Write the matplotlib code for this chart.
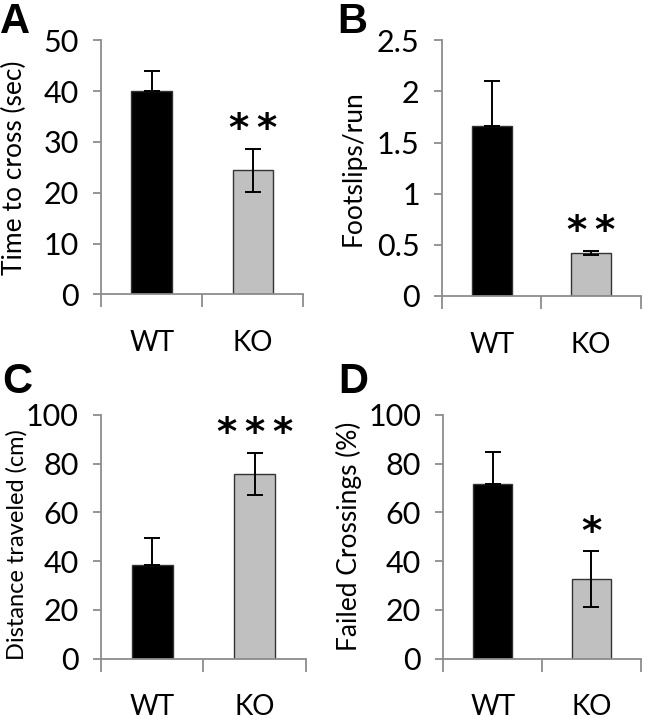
import numpy as np
from matplotlib import pyplot as plt

plt.rcParams['font.family'] = ['Lato', 'DejaVu Sans']

groups = ["WT", "KO"]
bar_colors = ["black", "#c0c0c0"]

# panel values
time_cross = [40.0, 24.4]
time_cross_err = [4.0, 4.2]
footslips = [1.66, 0.42]
footslips_err = [0.44, 0.02]
distance = [38.3, 75.7]
distance_err = [11.2, 8.7]
failed = [71.7, 32.7]
failed_err = [13.0, 11.3]

panels = [
    ("A", time_cross, time_cross_err, "Time to cross (sec)", 50, 10, "**"),
    ("B", footslips, footslips_err, "Footslips/run", 2.5, 0.5, "**"),
    ("C", distance, distance_err, "Distance traveled (cm)", 100, 20, "***"),
    ("D", failed, failed_err, "Failed Crossings (%)", 100, 20, "*"),
]

# axes boxes in figure fractions [left, bottom, width, height]
boxes = [
    [0.156, 0.591, 0.312, 0.353],
    [0.682, 0.589, 0.307, 0.355],
    [0.156, 0.085, 0.316, 0.339],
    [0.684, 0.085, 0.305, 0.339],
]
letter_pos = [(0.0, 0.997), (0.520, 0.997), (0.004, 0.497), (0.522, 0.497)]
# ylabel placement (x, y in axes fraction) and size
label_spots = [(-0.366, 0.5, 19), (-0.382, 0.5, 19), (-0.361, 0.47, 17), (-0.41, 0.5, 19)]

fig = plt.figure(figsize=(6.48, 7.2), dpi=100)
axis_col = "#8c8c8c"

for (letter, vals, errs, ylabel, ymax, step, stars), box, lp, ls in zip(panels, boxes, letter_pos, label_spots):
    ax = fig.add_axes(box)
    x = np.array([0.5, 1.5])
    # lower error only drawn for the grey bar (black bar hides it)
    lower = [0, errs[1]]
    ax.bar(x, vals, width=0.4, color=bar_colors, edgecolor="#333333", linewidth=1.0, zorder=2)
    ax.errorbar(x, vals, yerr=[lower, errs], fmt="none", ecolor="black",
                elinewidth=1.4, capsize=6, capthick=1.4, zorder=3)
    ax.set_xlim(0, 2)
    ax.set_ylim(0, ymax)
    ticks = np.arange(0, ymax + step / 2, step)
    ax.set_yticks(ticks)
    ax.set_yticklabels([("%g" % t) for t in ticks], fontsize=22)
    ax.set_xticks([0, 1, 2])
    ax.set_xticklabels([])
    for xi, g in zip(x, groups):
        ax.annotate(g, (xi, 0), xycoords=("data", "axes fraction"), xytext=(0, -35),
                    textcoords="offset points", ha="center", va="center", fontsize=20)
    ax.set_ylabel(ylabel, fontsize=ls[2])
    ax.yaxis.set_label_coords(ls[0], ls[1])
    for s in ["top", "right"]:
        ax.spines[s].set_visible(False)
    for s in ["left", "bottom"]:
        ax.spines[s].set_color(axis_col)
        ax.spines[s].set_linewidth(1.3)
    ax.tick_params(axis="y", direction="out", length=6, width=1.3, color=axis_col, pad=10)
    ax.tick_params(axis="x", direction="out", length=9, width=1.3, color=axis_col)
    ax.text(1.5, vals[1] + errs[1] + ymax * 0.03, "\u2009".join(stars), ha="center",
            va="baseline", fontsize=28, fontweight="bold", fontfamily="DejaVu Sans")
    fig.text(lp[0], lp[1], letter, ha="left", va="top", fontsize=30,
             fontweight="bold", fontfamily="Liberation Sans")

plt.savefig("out.png", dpi=100)
